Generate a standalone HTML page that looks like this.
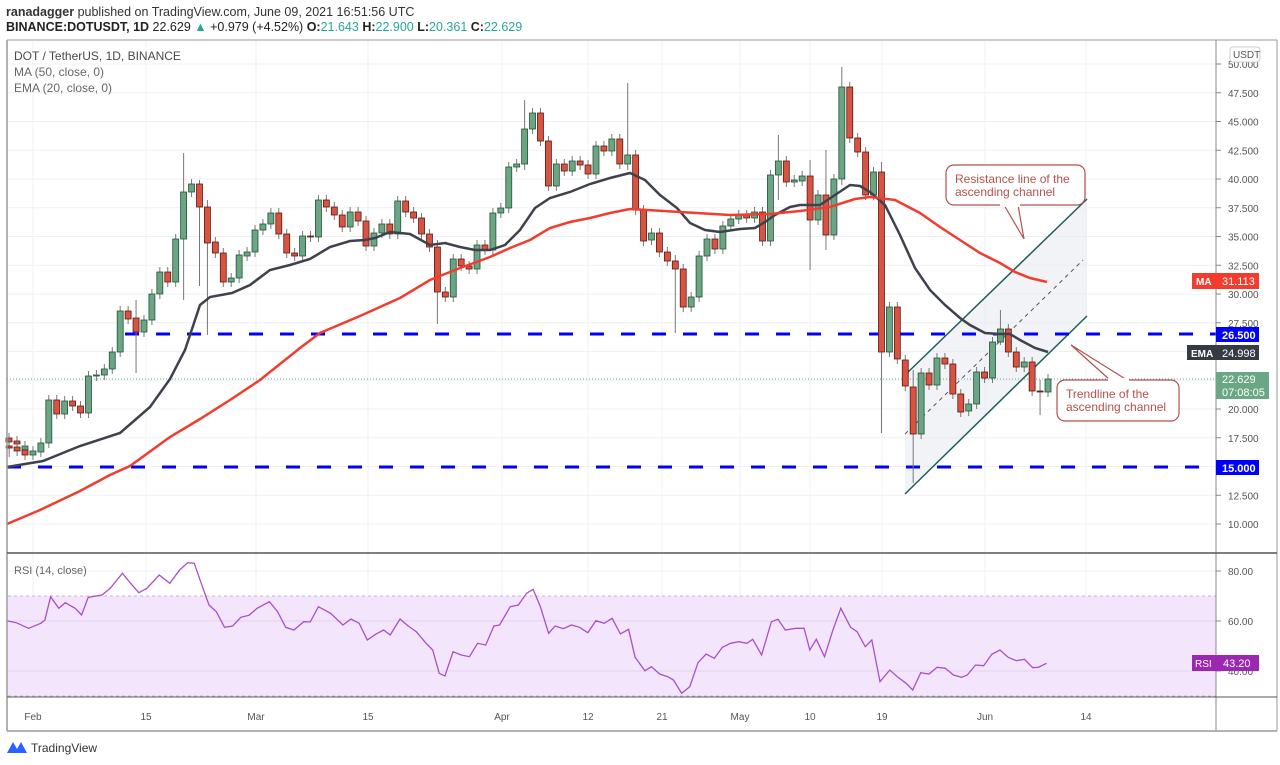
<!DOCTYPE html>
<html><head><meta charset="utf-8"><style>
body{margin:0;background:#fff;width:1280px;height:765px;overflow:hidden;font-family:"Liberation Sans",sans-serif}
svg{position:absolute;left:0;top:0}
</style></head><body>
<svg id="s" width="1280" height="765" xmlns="http://www.w3.org/2000/svg" font-family="Liberation Sans, sans-serif">
<rect width="1280" height="765" fill="#fff"/>
<g id="grid" stroke="#eef0f3" stroke-width="1"></g>
<polygon points="905,494 1087,316 1087,199 905,375" fill="#e6e9ef" opacity="0.55"/>
<line x1="905" y1="494" x2="1087" y2="316" stroke="#1e5e5a" stroke-width="1.5"/>
<line x1="905" y1="375" x2="1087" y2="199" stroke="#1e5e5a" stroke-width="1.5"/>
<line x1="905" y1="434" x2="1083" y2="260" stroke="#555" stroke-width="1" stroke-dasharray="4,4"/>
<line x1="125" y1="334" x2="1216" y2="334" stroke="#0000ff" stroke-width="3" stroke-dasharray="14,17"/>
<line x1="7" y1="467" x2="1216" y2="467" stroke="#0000ff" stroke-width="3" stroke-dasharray="14,17"/>
<line x1="7" y1="379" x2="1216" y2="379" stroke="#6a9" stroke-width="1" stroke-dasharray="1,2"/>
<g id="candles"></g>
<polyline id="ema" fill="none" stroke="#3f424c" stroke-width="2.5"/>
<polyline id="ma" fill="none" stroke="#f23d2e" stroke-width="2.5"/>
<!-- callouts -->
<path d="M1004,205 L1024,239 L1018,205" fill="#fff" stroke="#b5514c" stroke-width="1.2"/>
<rect x="946" y="165" width="139" height="40" rx="8" fill="#fff" stroke="#b5514c" stroke-width="1.2"/>
<rect x="1000" y="203" width="20" height="4" fill="#fff"/>
<text x="955" y="183" font-size="12" fill="#b5514c">Resistance line of the</text>
<text x="955" y="196" font-size="12" fill="#b5514c">ascending channel</text>
<path d="M1110,380 L1071,345 L1127,380" fill="#fff" stroke="#b5514c" stroke-width="1.2"/>
<rect x="1057" y="380" width="122" height="41" rx="8" fill="#fff" stroke="#b5514c" stroke-width="1.2"/>
<rect x="1108" y="378" width="21" height="4" fill="#fff"/>
<text x="1066" y="398" font-size="12" fill="#b5514c">Trendline of the</text>
<text x="1066" y="411" font-size="12" fill="#b5514c">ascending channel</text>
<!-- RSI pane -->
<rect x="8" y="596" width="1208" height="100" fill="#f3e6fc"/>
<line x1="8" y1="596" x2="1216" y2="596" stroke="#c9b3d6" stroke-dasharray="3,3"/>
<line x1="8" y1="696" x2="1216" y2="696" stroke="#c9b3d6" stroke-dasharray="3,3"/>
<line x1="8" y1="621" x2="1216" y2="621" stroke="#e2d2ea"/>
<line x1="8" y1="671" x2="1216" y2="671" stroke="#e2d2ea"/>
<line x1="8" y1="571" x2="1216" y2="571" stroke="#eef0f3"/>
<polyline id="rsi" fill="none" stroke="#a94fcb" stroke-width="1.3"/>
<!-- frame -->
<line x1="7" y1="40" x2="1277" y2="40" stroke="#999"/>
<line x1="7" y1="40" x2="7" y2="731" stroke="#999" stroke-width="1.5"/>
<line x1="1216" y1="40" x2="1216" y2="731" stroke="#888"/>
<line x1="1277" y1="40" x2="1277" y2="731" stroke="#999"/>
<line x1="7" y1="553" x2="1277" y2="553" stroke="#555" stroke-width="1.5"/>
<line x1="7" y1="697" x2="1277" y2="697" stroke="#555" stroke-width="1"/>
<line x1="7" y1="731" x2="1277" y2="731" stroke="#999" stroke-width="1.5"/>
<g id="axis" font-size="10" fill="#555"></g>
<!-- labels -->
<rect x="1230" y="47" width="30" height="15" rx="3" fill="#fff" stroke="#ccc"/>
<text x="1233" y="58" font-size="10" fill="#555">USDT</text>
<rect x="1192" y="273" width="24" height="16" fill="#f23d2e"/><text x="1196" y="285" font-size="10" fill="#fff" font-weight="bold">MA</text>
<rect x="1216" y="273" width="43" height="16" fill="#f23d2e"/><text x="1222" y="285" font-size="11" fill="#fff">31.113</text>
<rect x="1216" y="327" width="43" height="15" fill="#0000ff"/><text x="1222" y="339" font-size="11" fill="#fff" font-weight="bold">26.500</text>
<rect x="1187" y="345" width="29" height="15" fill="#363a45"/><text x="1191" y="357" font-size="10" fill="#fff" font-weight="bold">EMA</text>
<rect x="1216" y="345" width="43" height="15" fill="#363a45"/><text x="1222" y="357" font-size="11" fill="#fff">24.998</text>
<rect x="1216" y="372" width="53" height="27" fill="#6aa784"/><text x="1222" y="383" font-size="11" fill="#fff">22.629</text><text x="1222" y="396" font-size="11" fill="#fff">07:08:05</text>
<rect x="1216" y="460" width="43" height="15" fill="#0000ff"/><text x="1222" y="472" font-size="11" fill="#fff" font-weight="bold">15.000</text>
<rect x="1192" y="655" width="24" height="16" fill="#9c27b0"/><text x="1195" y="667" font-size="10" fill="#fff">RSI</text>
<rect x="1216" y="655" width="43" height="16" fill="#9c27b0"/><text x="1223" y="667" font-size="11" fill="#fff">43.20</text>
<text x="14" y="60" font-size="12" fill="#4a4a4a">DOT / TetherUS, 1D, BINANCE</text>
<text x="14" y="76" font-size="12" fill="#666">MA (50, close, 0)</text>
<text x="14" y="92" font-size="12" fill="#666">EMA (20, close, 0)</text>
<text x="14" y="574" font-size="11" fill="#666">RSI (14, close)</text>
<text x="6" y="16" font-size="12.5" fill="#333"><tspan font-weight="bold">ranadagger</tspan> published on TradingView.com, June 09, 2021 16:51:56 UTC</text>
<text x="6" y="31" font-size="12.5" fill="#222"><tspan font-weight="bold">BINANCE:DOTUSDT, 1D</tspan>  22.629 <tspan fill="#26a69a">▲</tspan> +0.979 (+4.52%) <tspan font-weight="bold">O:</tspan><tspan fill="#26a69a">21.643</tspan> <tspan font-weight="bold">H:</tspan><tspan fill="#26a69a">22.900</tspan> <tspan font-weight="bold">L:</tspan><tspan fill="#26a69a">20.361</tspan> <tspan font-weight="bold">C:</tspan><tspan fill="#26a69a">22.629</tspan></text>
<path d="M7,753 L13,742 L17,749 L21,742 L27,753 Z" fill="#2962ff"/>
<text x="31" y="752" font-size="12" fill="#333">TradingView</text>
</svg>
<script>
var NS="http://www.w3.org/2000/svg";
function el(p,t,a){var e=document.createElementNS(NS,t);for(var k in a)e.setAttribute(k,a[k]);p.appendChild(e);return e;}
var g=document.getElementById('grid'),ax=document.getElementById('axis');
for(var k=0;k<=16;k++){var y=64+28.75*k;el(g,'line',{x1:8,y1:y,x2:1216,y2:y});
 var v=(50-2.5*k).toFixed(3);var t=el(ax,'text',{x:1228,y:y+4});t.textContent=v;el(ax,'line',{x1:1216,y1:y,x2:1221,y2:y,stroke:'#888'});}
var tl=[[33,'Feb'],[146,'15'],[256,'Mar'],[368,'15'],[502,'Apr'],[588,'12'],[662,'21'],[740,'May'],[810,'10'],[882,'19'],[985,'Jun'],[1086,'14']];
tl.forEach(function(a){el(g,'line',{x1:a[0],y1:41,x2:a[0],y2:697});var t=el(ax,'text',{x:a[0],y:720,'text-anchor':'middle'});t.textContent=a[1];});
[[571,'80.00'],[621,'60.00'],[671,'40.00']].forEach(function(a){var t=el(ax,'text',{x:1228,y:a[0]+4});t.textContent=a[1];el(ax,'line',{x1:1216,y1:a[0],x2:1221,y2:a[0],stroke:'#888'});});
var C=[[9,438,442,'r'],[17,441,444,'r'],[25,446,450,'g'],[33,446,448,'r',436,457],[41,447,451,'r'],[49,450,455,'r'],[57,451,455,'g'],[65,443,452,'g'],[73,400,443,'g'],[81,400,414,'r'],[89,401,414,'g'],[97,401,406,'r'],[105,406,413,'r'],[113,376,413,'g'],[121,375,376,'g'],[129,369,375,'g'],[137,352,369,'g'],[145,311,352,'g'],[153,311,319,'r'],[161,318,332,'r',300,373],[169,320,332,'g'],[177,294,320,'g'],[185,272,294,'g'],[193,272,282,'r'],[201,239,282,'g'],[209,192,239,'g',153,300],[217,184,192,'g'],[225,184,207,'r',180,286],[233,207,243,'r',200,335],[241,242,253,'r'],[249,253,282,'r'],[257,278,282,'g'],[265,255,278,'g'],[273,252,256,'g'],[281,230,252,'g'],[289,224,230,'g'],[297,213,224,'g'],[305,213,234,'r'],[313,234,253,'r'],[320,253,256,'r'],[328,236,256,'g'],[336,236,237,'r'],[344,200,237,'g'],[352,200,207,'r'],[360,207,215,'r'],[368,215,227,'r'],[376,212,227,'g'],[384,212,221,'r'],[392,221,246,'r'],[400,233,246,'g'],[408,224,233,'g'],[416,224,234,'r'],[424,201,234,'g'],[432,201,212,'r'],[440,212,218,'r'],[448,218,234,'r'],[456,234,247,'r'],[464,247,292,'r',240,324],[472,292,297,'r'],[480,259,297,'g'],[488,259,266,'r'],[496,266,269,'r'],[504,245,269,'g'],[512,245,250,'r'],[520,213,250,'g'],[528,208,213,'g'],[536,167,208,'g'],[544,164,167,'g'],[552,129,164,'g',100,170],[560,113,129,'g'],[568,113,141,'r'],[576,141,186,'r'],[584,164,186,'g'],[592,164,171,'r'],[600,161,171,'g'],[608,161,165,'r'],[616,165,174,'r'],[624,146,174,'g'],[632,146,151,'r'],[640,139,151,'g'],[648,139,164,'r'],[656,155,164,'g',83,170],[664,155,210,'r'],[672,210,241,'r'],[680,233,240,'g'],[688,233,252,'r'],[696,252,261,'r'],[704,261,269,'r',255,333],[712,269,307,'r'],[720,297,307,'g'],[728,256,297,'g'],[736,239,256,'g'],[744,239,249,'r'],[752,226,249,'g'],[760,219,226,'g'],[768,215,219,'g'],[776,215,218,'r'],[784,212,218,'g'],[792,212,241,'r'],[800,175,241,'g'],[808,161,175,'g',135,200],[816,161,182,'r'],[824,180,182,'g'],[832,176,181,'g'],[840,176,220,'r',160,270],[848,195,220,'g'],[856,195,235,'r',150,250],[864,179,235,'g'],[872,87,179,'g',67,185],[880,87,138,'r'],[888,138,152,'r'],[896,152,195,'r'],[904,172,195,'g'],[912,172,352,'r',162,433],[920,307,352,'g'],[928,307,359,'r'],[936,360,386,'r'],[944,387,434,'r',370,483],[952,373,434,'g'],[960,373,385,'r'],[968,358,385,'g'],[976,358,364,'r'],[984,364,394,'r'],[992,394,412,'r'],[1000,404,411,'g'],[1008,372,404,'g'],[1016,372,378,'r'],[1024,342,378,'g'],[1032,329,342,'g',310,345],[1040,329,352,'r'],[1048,352,367,'r'],[1056,362,367,'g'],[1064,362,391,'r'],[1072,391,392,'r',380,415],[1080,379,392,'g']];
// re-map x positions using computed spacing from last known
var cg=document.getElementById('candles');
var n=C.length;
C.forEach(function(c,i){var x=1048-(n-1-i)*7.93;if(i<3)x=9+i*8;var hi=c[4]||c[1]-5,lo=c[5]||c[2]+5;
 var gr=c[3]=='g';el(cg,'line',{x1:x,y1:hi,x2:x,y2:lo,stroke:'#777','stroke-width':1});
 el(cg,'rect',{x:x-3,y:c[1],width:6,height:Math.max(1,c[2]-c[1]),fill:gr?'#6ba583':'#d75442',stroke:gr?'#225437':'#5b1a13','stroke-width':0.8});});
function pl(id,a){document.getElementById(id).setAttribute('points',a.map(function(p){return p.join(',')}).join(' '));}
pl('ema',[[7,467],[43,461],[80,446],[120,433],[150,407],[170,379],[185,350],[200,305],[210,297],[232,293],[250,285],[270,270],[290,265],[310,259],[330,247],[350,241],[365,240],[375,238],[390,232],[410,234],[430,245],[445,243],[460,247],[475,250],[490,250],[505,245],[520,230],[535,208],[550,198],[570,192],[590,184],[610,178],[630,173],[645,180],[660,195],[677,208],[690,223],[705,230],[720,232],[740,229],[755,228],[765,222],[775,215],[790,207],[800,205],[820,205],[835,195],[850,185],[860,186],[870,192],[885,205],[900,235],[915,268],[930,290],[945,305],[960,318],[970,325],[985,333],[1000,334],[1010,334],[1020,340],[1035,348],[1048,352]]);
pl('ma',[[7,524],[40,510],[80,491],[110,475],[130,466],[170,437],[200,419],[230,400],[260,380],[280,364],[300,348],[320,333],[360,316],[400,298],[430,280],[460,268],[490,257],[510,248],[530,240],[550,228],[570,222],[590,218],[610,213],[630,209],[680,212],[730,215],[770,214],[800,211],[830,207],[855,199],[870,197],[895,200],[920,213],[940,227],[960,240],[980,253],[1000,263],[1015,272],[1030,278],[1047,282]]);
var R=[[8,242],[20,248],[35,265],[50,250],[55,240],[62,170],[72,205],[80,188],[92,205],[100,225],[108,172],[125,165],[135,145],[150,100],[160,130],[170,158],[180,145],[195,105],[208,130],[220,90],[230,68],[238,70],[248,140],[256,195],[265,215],[275,262],[285,258],[295,232],[305,226],[315,205],[330,185],[340,215],[350,262],[360,270],[372,245],[380,246],[390,200],[405,220],[420,255],[430,237],[440,250],[450,300],[460,283],[470,270],[478,285],[490,237],[500,258],[510,275],[522,310],[530,330],[538,400],[545,408],[555,335],[565,345],[575,350],[585,310],[595,315],[605,258],[612,255],[625,200],[635,195],[645,160],[653,148],[662,200],[672,280],[680,258],[690,266],[700,255],[710,262],[720,278],[730,242],[740,250],[750,235],[760,282],[770,268],[778,352],[790,392],[798,380],[808,402],[818,410],[825,420],[835,460],[845,440],[855,368],[865,342],[875,355],[885,322],[895,310],[905,305],[915,310],[922,298],[933,345],[945,245],[953,238],[962,270],[975,265],[985,265],[992,330],[1000,298],[1010,350],[1020,272],[1030,205],[1042,262],[1050,275],[1060,320],[1068,300],[1078,425],[1090,390],[1100,412],[1110,430],[1118,450],[1128,398],[1138,402],[1148,382],[1158,385],[1168,405],[1178,412],[1185,405],[1195,375],[1205,377],[1215,343],[1225,330],[1235,352],[1245,362],[1255,358],[1265,383],[1272,382],[1282,370]];
pl('rsi',R.map(function(p){return [(p[0]/1.225).toFixed(1),(540+p[1]/3).toFixed(1)]}));
</script>
</body></html>
